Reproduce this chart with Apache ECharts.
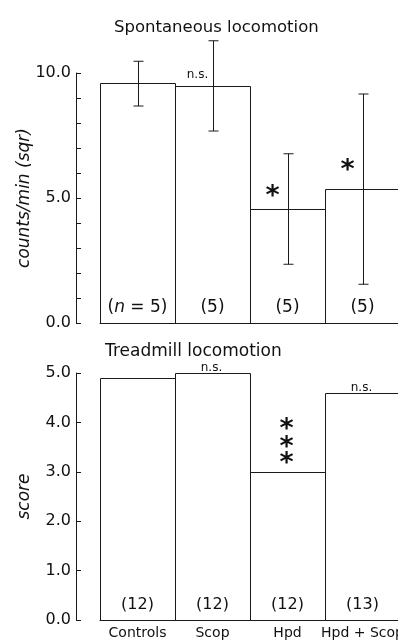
<!DOCTYPE html>
<html><head><meta charset="utf-8">
<script src="https://cdn.jsdelivr.net/npm/echarts@6/dist/echarts.min.js"></script>
<style>html,body{margin:0;padding:0;background:#fff;}#c{width:398px;height:640px;}</style>
</head><body><div id="c"></div>
<script>
// ---- data ----
const categories = ['Controls', 'Scop', 'Hpd', 'Hpd + Scop'];
const spontMean  = [9.59, 9.49, 4.57, 5.37];
const spontUpper = [10.47, 11.29, 6.77, 9.16];
const spontLower = [8.68, 7.68, 2.35, 1.55];
const spontN     = ['(n=5)', '(5)', '(5)', '(5)'];
const treadScore = [4.89, 5.0, 3.0, 4.59];
const treadN     = ['(12)', '(12)', '(12)', '(13)'];
const spontTickLabels = [0, 5, 10];
const treadTickLabels = [0, 1, 2, 3, 4, 5];
// significance marks: category index, value level, text
const spontMarks = [[1, 9.92, 'n.s.'], [2, 5.2, '*'], [3, 6.24, '*']];
const treadMarks = [[1, 5.1, 'n.s.'], [3, 4.69, 'n.s.'], [2, 3.92, '*'], [2, 3.57, '*'], [2, 3.23, '*']];

// ---- style ----
const FONT = 'DejaVu Sans';
const INK = '#111';
const LINE = '#1a1a1a';

const chart = echarts.init(document.getElementById('c'), null, {renderer: 'canvas'});

function nLabel(s) {
  return s.replace('n=', '{i|n} = ');
}

function barRender(values, labels, fontSize) {
  return function (params, api) {
    const i = params.dataIndex;
    const top = api.coord([i, values[i]]);
    const base = api.coord([i, 0]);
    const w = api.size([1, 0])[0];
    const l = Math.round(top[0] - w / 2) + 0.5;
    const r = Math.round(top[0] + w / 2) + 0.5;
    const t = Math.round(top[1]) + 0.5;
    const b = Math.round(base[1]) + 0.5;
    return {type: 'group', children: [
      {type: 'polyline', shape: {points: [[l, b], [l, t], [r, t], [r, b]]},
       style: {stroke: LINE, lineWidth: 1, fill: null}},
      {type: 'text', x: top[0], y: base[1] - 7,
       style: {text: nLabel(labels[i]), fill: INK, font: fontSize + 'px ' + FONT,
         align: 'center', verticalAlign: 'bottom',
         rich: {i: {fontFamily: FONT, fontStyle: 'italic', fontSize: fontSize, fill: INK}}}}
    ]};
  };
}

function errRender(params, api) {
  const top = api.coord([api.value(0), api.value(1)]);
  const bot = api.coord([api.value(0), api.value(2)]);
  const x = Math.round(top[0]) + 0.5;
  const cap = 5;
  const st = {stroke: LINE, lineWidth: 1};
  return {type: 'group', children: [
    {type: 'line', shape: {x1: x, y1: top[1], x2: x, y2: bot[1]}, style: st},
    {type: 'line', shape: {x1: x - cap, y1: top[1], x2: x + cap, y2: top[1]}, style: st},
    {type: 'line', shape: {x1: x - cap, y1: bot[1], x2: x + cap, y2: bot[1]}, style: st}
  ]};
}

function markRender(marks, dx) {
  return function (params, api) {
    const m = marks[params.dataIndex];
    const p = api.coord([m[0], m[1]]);
    const star = m[2] === '*';
    return {
      type: 'text',
      x: p[0] + dx, y: p[1] + (star ? 4 : 0),
      style: {
        text: m[2],
        fill: INK,
        font: star ? ('bold 27px ' + FONT) : ('12px ' + FONT),
        align: 'center', verticalAlign: 'middle'
      }
    };
  };
}

function yAxisCommon(extra) {
  return Object.assign({
    type: 'value', min: 0, interval: 1, offset: 24,
    axisLine: {show: true, lineStyle: {color: LINE, width: 1}},
    axisTick: {show: true, inside: true, length: 5, lineStyle: {color: LINE}},
    splitLine: {show: false},
    nameLocation: 'middle', nameRotate: 90, nameGap: 43, nameMoveOverlap: false,
    nameTextStyle: {fontFamily: FONT, fontStyle: 'italic', fontSize: 17, color: INK}
  }, extra);
}

const option = {
  animation: false,
  backgroundColor: '#fff',
  title: [
    {text: 'Spontaneous locomotion', left: 109, top: 14,
     textStyle: {fontFamily: FONT, fontSize: 16.5, fontWeight: 'normal', color: INK}},
    {text: 'Treadmill locomotion', left: 100, top: 338,
     textStyle: {fontFamily: FONT, fontSize: 17, fontWeight: 'normal', color: INK}}
  ],
  grid: [
    {left: 100, top: 73, width: 300, height: 250, outerBoundsMode: 'none', containLabel: false},
    {left: 100, top: 373, width: 300, height: 247, outerBoundsMode: 'none', containLabel: false}
  ],
  xAxis: [
    {type: 'category', gridIndex: 0, data: categories,
     axisLine: {show: true, lineStyle: {color: LINE}}, axisTick: {show: false}, axisLabel: {show: false}},
    {type: 'category', gridIndex: 1, data: categories,
     axisLine: {show: true, lineStyle: {color: LINE}}, axisTick: {show: false},
     axisLabel: {show: true, margin: 6, fontFamily: FONT, fontSize: 14, color: INK, interval: 0, hideOverlap: false}}
  ],
  yAxis: [
    yAxisCommon({gridIndex: 0, max: 10, name: 'counts/min (sqr)',
      axisLabel: {margin: 5, fontFamily: FONT, fontSize: 16, color: INK,
        formatter: v => spontTickLabels.indexOf(v) >= 0 ? v.toFixed(1) : ''}}),
    yAxisCommon({gridIndex: 1, max: 5, name: 'score',
      axisLabel: {margin: 5, fontFamily: FONT, fontSize: 16, color: INK,
        formatter: v => treadTickLabels.indexOf(v) >= 0 ? v.toFixed(1) : ''}})
  ],
  series: [
    {type: 'custom', xAxisIndex: 0, yAxisIndex: 0, clip: false, z: 3,
     data: spontMean.map((v, i) => [i, v]), renderItem: barRender(spontMean, spontN, 17)},
    {type: 'custom', xAxisIndex: 0, yAxisIndex: 0, clip: false, z: 5,
     data: categories.map((c, i) => [i, spontUpper[i], spontLower[i]]), renderItem: errRender},
    {type: 'custom', xAxisIndex: 0, yAxisIndex: 0, clip: false, z: 6,
     data: spontMarks.map(m => [m[0], m[1]]), renderItem: markRender(spontMarks, -15)},
    {type: 'custom', xAxisIndex: 1, yAxisIndex: 1, clip: false, z: 3,
     data: treadScore.map((v, i) => [i, v]), renderItem: barRender(treadScore, treadN, 16)},
    {type: 'custom', xAxisIndex: 1, yAxisIndex: 1, clip: false, z: 6,
     data: treadMarks.map(m => [m[0], m[1]]), renderItem: markRender(treadMarks, -1)}
  ]
};
chart.setOption(option);
</script>
</body></html>
